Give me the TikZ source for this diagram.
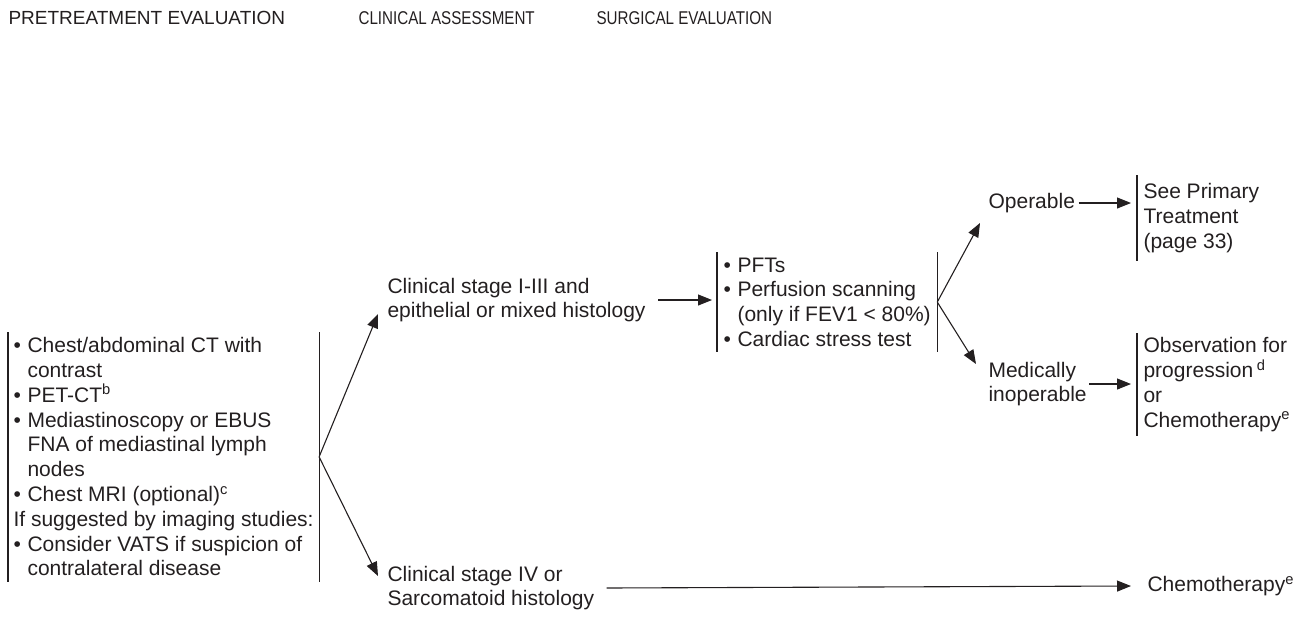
\documentclass[tikz,border=0pt]{standalone}
\usepackage{fontspec}
\setmainfont{Liberation Sans}
\usetikzlibrary{arrows.meta,calc}
\definecolor{inkgray}{HTML}{231F20}
\newcommand{\bul}{\makebox[14pt][l]{\textbullet}}
\newcommand{\ind}{\hspace*{14pt}}

\begin{document}
\begin{tikzpicture}[x=1pt, y=-1pt, line width=1.1pt, color=inkgray,
    head/.style={anchor=west, inner sep=0pt, font=\fontsize{19}{22}\selectfont},
    narrow/.style={font=\fontsize{18.5}{22}\selectfont\addfontfeatures{FakeStretch=0.82}},
    txt/.style={anchor=west, inner sep=0pt, align=left, font=\fontsize{21}{24.8}\selectfont},
    box/.style={anchor=north west, inner xsep=5pt, inner ysep=5pt, align=left, font=\fontsize{21}{24.8}\selectfont},
    arr/.style={-{Triangle[length=14pt,width=11pt]}}]
  \useasboundingbox (0,0) rectangle (1305,637);

  \node[head] at (8,18) (h_pre) {PRETREATMENT EVALUATION};
  \node[head, narrow] at (358,18) (h_clin) {CLINICAL ASSESSMENT};
  \node[head, narrow] at (596,18) (h_surg) {SURGICAL EVALUATION};

  \node[box] at (8,332) (pre) {\bul Chest/abdominal CT with\\ \ind contrast\\ \bul PET-CT\textsuperscript{b}\\ \bul Mediastinoscopy or EBUS\\ \ind FNA of mediastinal lymph\\ \ind nodes\\ \bul Chest MRI (optional)\textsuperscript{c}\\ If suggested by imaging studies:\\ \bul Consider VATS if suspicion of\\ \ind contralateral disease};

  \node[txt] at (387,300) (stage13) {Clinical stage I-III and\\epithelial or mixed histology};
  \node[txt] at (387,588) (stage4) {Clinical stage IV or\\Sarcomatoid histology};

  \node[box, inner xsep=6pt] at (717,252) (tests) {\bul PFTs\\ \bul Perfusion scanning\\ \ind(only if FEV1 < 80\%)\\ \bul Cardiac stress test};

  \node[txt] at (988,203) (oper) {Operable};
  \node[txt] at (988,384) (inoper) {Medically\\inoperable};

  \node[box, inner xsep=6pt, inner ysep=8pt] at (1137,175) (primary) {See Primary\\Treatment\\(page 33)};
  \node[box, inner xsep=6pt, inner ysep=4pt] at (1137,333) (observ) {Observation for\\progression\,\textsuperscript{d}\\or\\Chemotherapy\textsuperscript{e}};
  \node[txt] at (1147,586) (chemo) {Chemotherapy\textsuperscript{e}};

  \draw (pre.north west) -- (pre.south west);
  \draw (pre.north east) -- (pre.south east);
  \draw (tests.north west) -- (tests.south west);
  \draw (tests.north east) -- (tests.south east);
  \draw (primary.north west) -- (primary.south west);
  \draw (observ.north west) -- (observ.south west);

  \draw[arr] (pre.east) -- ([xshift=-9pt,yshift=-14pt]stage13.west);
  \draw[arr] (pre.east) -- ([xshift=-9pt,yshift=12pt]stage4.west);
  \draw[arr] ([xshift=12pt]stage13.east) -- ([xshift=-5pt]stage13.east -| tests.west);
  \draw[arr] (tests.east) -- ([xshift=-8pt,yshift=-20pt]oper.west);
  \draw[arr] (tests.east) -- ([xshift=-12pt,yshift=20pt]inoper.west);
  \draw[arr] ([xshift=3pt]oper.east) -- ([xshift=-6pt]oper.east -| primary.west);
  \draw[arr] ([xshift=2pt]inoper.east) -- ([xshift=-6pt]inoper.east -| observ.west);
  \draw[arr] ([xshift=12pt]stage4.east) -- ([xshift=-16pt]chemo.west);
\end{tikzpicture}
\end{document}
